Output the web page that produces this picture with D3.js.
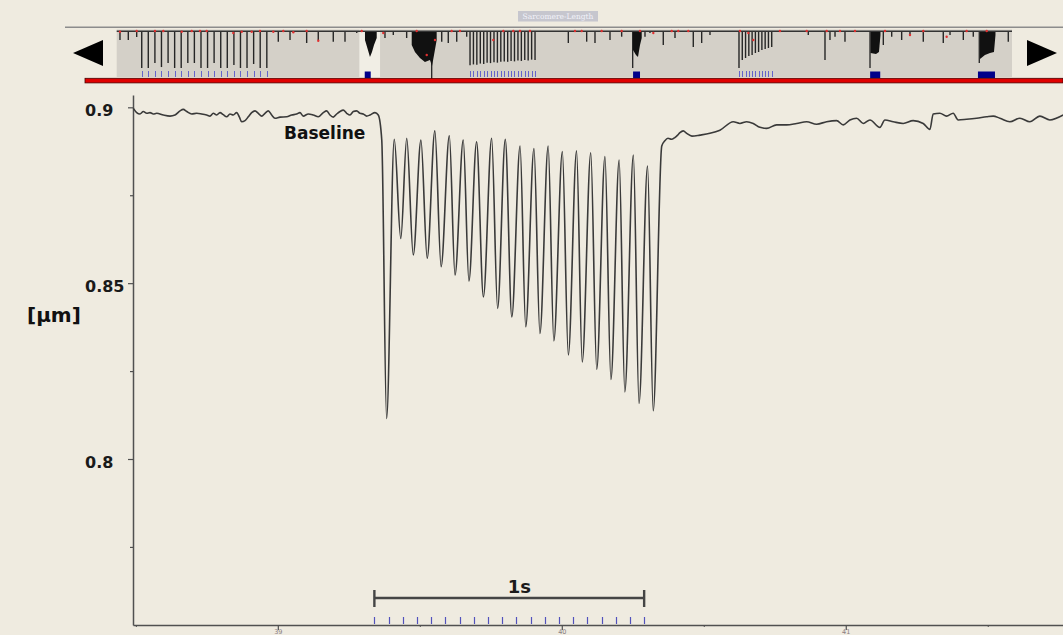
<!DOCTYPE html>
<html>
<head>
<meta charset="utf-8">
<script src="https://cdn.jsdelivr.net/npm/d3@7"></script>
<style>
  html, body { margin: 0; padding: 0; background: #efebe0; overflow: hidden; }
  svg { display: block; }
  text { font-family: "DejaVu Sans", Verdana, sans-serif; }
</style>
</head>
<body>
<div id="chart"></div>
<script>
// ---- main trace: sarcomere length [µm] vs time [s] ----
const baselineBefore = [
  [38.4912, 0.8997], [38.5030, 0.8985], [38.5146, 0.8981], [38.5263, 0.8988], [38.5382, 0.8983],
  [38.5499, 0.8985], [38.5615, 0.8981], [38.5735, 0.8983], [38.5967, 0.8978], [38.6203, 0.8975],
  [38.6379, 0.8978], [38.6555, 0.8990], [38.6671, 0.8994], [38.6791, 0.8988], [38.6967, 0.8981],
  [38.7143, 0.8983], [38.7319, 0.8981], [38.7495, 0.8978], [38.7611, 0.8975], [38.7727, 0.8983],
  [38.7847, 0.8978], [38.7963, 0.8985], [38.8079, 0.8979], [38.8199, 0.8973], [38.8315, 0.8981],
  [38.8432, 0.8978], [38.8551, 0.8985], [38.8643, 0.8973], [38.8727, 0.8959], [38.8844, 0.8962],
  [38.8960, 0.8973], [38.9079, 0.8985], [38.9196, 0.8990], [38.9312, 0.8983], [38.9432, 0.8975],
  [38.9548, 0.8983], [38.9664, 0.8990], [38.9784, 0.8978], [38.9900, 0.8969], [39.0076, 0.8972],
  [39.0312, 0.8973], [39.0488, 0.8978], [39.0664, 0.8981], [39.0780, 0.8985], [39.0896, 0.8975],
  [39.1073, 0.8981], [39.1249, 0.8978], [39.1425, 0.8973], [39.1601, 0.8985], [39.1721, 0.8990],
  [39.1837, 0.8978], [39.1953, 0.8972], [39.2073, 0.8981], [39.2189, 0.8988], [39.2305, 0.8992],
  [39.2425, 0.8983], [39.2541, 0.8978], [39.2657, 0.8988], [39.2777, 0.8990], [39.2893, 0.8983],
  [39.3009, 0.8981], [39.3129, 0.8975], [39.3245, 0.8978], [39.3421, 0.8985], [39.3537, 0.8978]
];

const twitchTrain = [
  [39.366, 0.8907], [39.383, 0.8115], [39.410, 0.8909], [39.433, 0.8627], [39.454, 0.8912],
  [39.477, 0.8580], [39.504, 0.8907], [39.526, 0.8571], [39.553, 0.8933], [39.575, 0.8547],
  [39.604, 0.8919], [39.624, 0.8523], [39.653, 0.8907], [39.673, 0.8506], [39.700, 0.8902],
  [39.724, 0.8461], [39.753, 0.8912], [39.774, 0.8428], [39.801, 0.8909], [39.824, 0.8404],
  [39.853, 0.8890], [39.873, 0.8376], [39.902, 0.8883], [39.923, 0.8357], [39.952, 0.8890],
  [39.972, 0.8336], [40.002, 0.8874], [40.023, 0.8296], [40.052, 0.8876], [40.072, 0.8276],
  [40.102, 0.8871], [40.123, 0.8255], [40.152, 0.8860], [40.173, 0.8226], [40.202, 0.8850],
  [40.222, 0.8191], [40.252, 0.8864], [40.272, 0.8158], [40.302, 0.8833], [40.322, 0.8137],
  [40.352, 0.8890]
];

const baselineAfter = [
  [40.3630, 0.8905], [40.3740, 0.8912], [40.3860, 0.8909], [40.3980, 0.8914], [40.4080, 0.8921],
  [40.4161, 0.8928], [40.4277, 0.8933], [40.4396, 0.8926], [40.4583, 0.8918], [40.4865, 0.8921],
  [40.5217, 0.8926], [40.5569, 0.8935], [40.6037, 0.8959], [40.6273, 0.8954], [40.6509, 0.8959],
  [40.6742, 0.8954], [40.6978, 0.8943], [40.7213, 0.8940], [40.7566, 0.8950], [40.7918, 0.8950],
  [40.8270, 0.8954], [40.8622, 0.8959], [40.8974, 0.8952], [40.9326, 0.8959], [40.9678, 0.8962],
  [40.9911, 0.8950], [41.0146, 0.8964], [41.0382, 0.8969], [41.0615, 0.8954], [41.0851, 0.8964],
  [41.1203, 0.8943], [41.1379, 0.8964], [41.1671, 0.8959], [41.2023, 0.8954], [41.2375, 0.8962],
  [41.2727, 0.8954], [41.2963, 0.8937], [41.3079, 0.8981], [41.3315, 0.8983], [41.3550, 0.8975],
  [41.3783, 0.8983], [41.3959, 0.8964], [41.4255, 0.8966], [41.4607, 0.8969], [41.4959, 0.8973],
  [41.5192, 0.8975], [41.5428, 0.8969], [41.5780, 0.8959], [41.6132, 0.8969], [41.6484, 0.8959],
  [41.6836, 0.8975], [41.7188, 0.8964], [41.7657, 0.8978]
];

// 20 Hz stimulation (blue markers)
const stimTimes = [39.34, 39.39, 39.44, 39.49, 39.54, 39.59, 39.64, 39.69, 39.74, 39.79,
                   39.84, 39.89, 39.94, 39.99, 40.04, 40.09, 40.14, 40.19, 40.24, 40.29];

const yTicks = [0.9, 0.85, 0.8];
const yMinorTicks = [0.875, 0.825, 0.775];
const xTicks = [39, 40, 41];
const xMinorTicks = [38.5, 39.5, 40.5, 41.5];

// ---- overview strip (whole recording) ----
const overviewWindow = [38.49, 41.765];
const overviewLevel = [[0, 0.8985], [142, 0.8985]];
const overviewSpikes = [
  [0.52, 0.8782], [1.84, 0.8782], [3.17, 0.8850],
  [3.97, 0.8138], [5.01, 0.8138], [6.06, 0.8253], [7.10, 0.8160], [8.15, 0.8253],
  [9.19, 0.8138], [10.23, 0.8138], [11.28, 0.8253], [12.32, 0.8253], [13.37, 0.8138],
  [14.41, 0.8138], [15.45, 0.8253], [16.50, 0.8138], [17.54, 0.8138], [18.59, 0.8207],
  [19.63, 0.8138], [20.67, 0.8138], [21.72, 0.8230], [22.76, 0.8138], [23.81, 0.8138],
  [25.63, 0.8743], [27.49, 0.8782], [30.13, 0.8713], [31.97, 0.8782], [34.35, 0.8743],
  [36.21, 0.8743], [38.07, 0.8943], [42.55, 0.8828], [43.87, 0.8897], [45.99, 0.8828],
  [51.55, 0.8743], [52.59, 0.8713], [53.93, 0.8743], [55.51, 0.8857],
  [56.04, 0.8200], [56.58, 0.8220], [57.12, 0.8210], [57.67, 0.8240], [58.21, 0.8230],
  [58.75, 0.8260], [59.29, 0.8250], [59.84, 0.8270], [60.38, 0.8260], [60.92, 0.8280],
  [61.47, 0.8290], [62.01, 0.8280], [62.55, 0.8300], [63.09, 0.8290], [63.64, 0.8310],
  [64.18, 0.8300], [64.72, 0.8320], [65.26, 0.8310], [65.81, 0.8330], [66.35, 0.8320],
  [71.63, 0.8713], [74.54, 0.8743], [75.86, 0.8713], [78.24, 0.8782], [80.09, 0.8857],
  [83.79, 0.8857], [84.58, 0.8943], [86.69, 0.8667], [88.55, 0.8828], [91.45, 0.8621],
  [92.78, 0.8713], [94.10, 0.8897],
  [98.70, 0.8138], [99.22, 0.8322], [99.74, 0.8368], [100.26, 0.8414], [100.78, 0.8437],
  [101.30, 0.8483], [101.81, 0.8506], [102.33, 0.8552], [102.85, 0.8575], [103.37, 0.8598],
  [103.89, 0.8621],
  [109.69, 0.8897], [112.34, 0.8322], [113.13, 0.8782], [113.93, 0.8857], [115.51, 0.8743],
  [121.59, 0.8667], [122.92, 0.8857], [124.50, 0.8782], [125.82, 0.8897], [127.93, 0.8743],
  [131.10, 0.8713], [132.17, 0.8897], [134.28, 0.8782], [135.86, 0.8857], [141.41, 0.8743]
];
// tetanic bursts in the overview: bottom edge [t, v]
const overviewBursts = [
  [[39.38, 0.8782], [39.85, 0.8552], [40.17, 0.8391], [40.49, 0.8506], [40.81, 0.8667], [41.24, 0.8828]],
  [[46.79, 0.8667], [47.31, 0.8506], [48.10, 0.8368], [48.89, 0.8276], [49.69, 0.8322], [50.01, 0.8184], [50.33, 0.8437], [50.75, 0.8782]],
  [[81.89, 0.8552], [82.36, 0.8437], [82.68, 0.8391], [83.00, 0.8667], [83.27, 0.8828]],
  [[119.56, 0.8483], [120.43, 0.8460], [120.90, 0.8506], [121.14, 0.8897]],
  [[136.92, 0.8345], [137.71, 0.8437], [138.51, 0.8483], [139.14, 0.8506], [139.38, 0.8897]]
];
const overviewNeedles = [[49.96, 0.7885], [81.84, 0.8138], [119.48, 0.8138], [136.81, 0.8253]];
const overviewMarks = [
  [0.52, 0.8972], [3.17, 0.8989], [6.07, 0.8989], [7.39, 0.8989], [10.31, 0.8972], [11.90, 0.8989],
  [13.21, 0.8989], [14.27, 0.8989], [18.49, 0.8943], [19.83, 0.8972], [21.41, 0.8972], [22.73, 0.8989],
  [24.84, 0.8972], [26.42, 0.8989], [28.01, 0.8960], [30.13, 0.8989], [31.97, 0.8766], [38.86, 0.8989],
  [42.28, 0.8943], [47.58, 0.8989], [49.17, 0.8437], [50.48, 0.8782], [53.13, 0.8989], [54.45, 0.8989],
  [59.73, 0.8782], [61.32, 0.8989], [62.90, 0.8989], [63.97, 0.8989], [65.55, 0.8989], [72.69, 0.8989],
  [73.75, 0.8989], [76.92, 0.8989], [80.09, 0.8989], [83.00, 0.8989], [85.11, 0.8943], [88.03, 0.8989],
  [89.07, 0.8989], [90.66, 0.8989], [98.86, 0.8989], [100.18, 0.8943], [100.97, 0.8782], [105.20, 0.8989],
  [109.44, 0.8989], [112.61, 0.8989], [114.72, 0.8989], [117.10, 0.8989], [121.86, 0.8989], [125.82, 0.8897],
  [127.93, 0.8989], [131.64, 0.8857], [134.81, 0.8989], [137.99, 0.8989]
];
const overviewStimTicks = [
  3.97, 5.01, 6.06, 7.10, 8.15, 9.19, 10.23, 11.28, 12.32, 13.37,
  14.41, 15.45, 16.50, 17.54, 18.59, 19.63, 20.67, 21.72, 22.76, 23.81,
  56.04, 56.58, 57.12, 57.67, 58.21, 58.75, 59.29, 59.84, 60.38, 60.92,
  61.47, 62.01, 62.55, 63.09, 63.64, 64.18, 64.72, 65.26, 65.81, 66.35,
  98.70, 99.22, 99.74, 100.26, 100.78, 101.30, 101.81, 102.33, 102.85, 103.37, 103.89
];
const overviewStimBlocks = [[39.34, 40.29], [81.9, 83.0], [119.5, 121.1], [136.6, 139.3]];

// ---------------------------------------------------------------
const W = 1063, H = 635;
const svg = d3.select("#chart").append("svg").attr("width", W).attr("height", H);
svg.append("rect").attr("width", W).attr("height", H).attr("fill", "#efebe0");

// ===== overview strip =====
const ox = d3.scaleLinear().domain([0, 142]).range([116.7, 1012]);
const oy = d3.scaleLinear().domain([0.8, 0.9]).range([74, 30.5]);
const ov = svg.append("g");

ov.append("line").attr("x1", 65).attr("x2", W).attr("y1", 27.3).attr("y2", 27.3)
  .attr("stroke", "#8c8c8c").attr("stroke-width", 1.5);

ov.append("rect").attr("x", 518).attr("y", 11).attr("width", 80).attr("height", 10.5)
  .attr("fill", "#c6c6ce");
ov.append("text").attr("x", 558).attr("y", 19).attr("text-anchor", "middle")
  .style("font-family", "'DejaVu Serif', serif").style("font-size", "7.5px")
  .attr("fill", "#f2f2fa").text("Sarcomere-Length");

ov.append("rect").attr("x", ox(0)).attr("y", 29.5).attr("width", ox(142) - ox(0)).attr("height", 47.5)
  .attr("fill", "#d4d0c8");
ov.append("rect").attr("x", ox(overviewWindow[0])).attr("y", 29.5)
  .attr("width", ox(overviewWindow[1]) - ox(overviewWindow[0])).attr("height", 47.5)
  .attr("fill", "#f1eee5");

ov.selectAll(".ov-spike").data(overviewSpikes).enter().append("line")
  .attr("class", "ov-spike")
  .attr("x1", d => ox(d[0])).attr("x2", d => ox(d[0]))
  .attr("y1", oy(0.8985)).attr("y2", d => oy(d[1]))
  .attr("stroke", "#262626").attr("stroke-width", 1.4);

ov.selectAll(".ov-needle").data(overviewNeedles).enter().append("line")
  .attr("class", "ov-needle")
  .attr("x1", d => ox(d[0])).attr("x2", d => ox(d[0]))
  .attr("y1", oy(0.8985)).attr("y2", d => oy(d[1]))
  .attr("stroke", "#222").attr("stroke-width", 1.3);

const burstArea = d3.area().x(d => ox(d[0])).y0(oy(0.8985)).y1(d => oy(d[1]));
ov.selectAll(".ov-burst").data(overviewBursts).enter().append("path")
  .attr("class", "ov-burst").attr("d", burstArea).attr("fill", "#111");

ov.append("path").datum(overviewLevel)
  .attr("d", d3.line().x(d => ox(d[0])).y(d => oy(d[1])))
  .attr("stroke", "#333").attr("stroke-width", 1.5).attr("fill", "none");

ov.selectAll(".ov-mark").data(overviewMarks).enter().append("circle")
  .attr("class", "ov-mark").attr("cx", d => ox(d[0])).attr("cy", d => oy(d[1]))
  .attr("r", 1.2).attr("fill", "#e03030");

ov.selectAll(".ov-stim").data(overviewStimTicks).enter().append("line")
  .attr("class", "ov-stim")
  .attr("x1", d => Math.round(ox(d)) + 0.5).attr("x2", d => Math.round(ox(d)) + 0.5)
  .attr("y1", 71).attr("y2", 77).attr("stroke", "#6464cc").attr("stroke-width", 1);

ov.selectAll(".ov-block").data(overviewStimBlocks).enter().append("rect")
  .attr("class", "ov-block")
  .attr("x", d => ox(d[0])).attr("width", d => ox(d[1]) - ox(d[0]))
  .attr("y", 71.5).attr("height", 6.5).attr("fill", "#00008a");

ov.append("rect").attr("x", 85).attr("y", 78.3).attr("width", W - 85).attr("height", 4.6)
  .attr("fill", "#e00000").attr("stroke", "#4a0000").attr("stroke-width", 0.8);

ov.append("path").attr("d", "M73,53L103,40L103,66Z").attr("fill", "#000");
ov.append("path").attr("d", "M1057,53L1027,40L1027,66Z").attr("fill", "#000");

// ===== main plot =====
const x = d3.scaleLinear().domain([38.49, 41.765]).range([133, 1063]);
const y = d3.scaleLinear().domain([0.7528, 0.9035]).range([625, 95]);
const axisColor = "#505050";

const yAxis = svg.append("g").attr("transform", "translate(133,0)")
  .call(d3.axisLeft(y).tickValues(yTicks).tickSize(5).tickSizeOuter(0).tickFormat(d3.format("")));
yAxis.select(".domain").attr("stroke", axisColor).attr("stroke-width", 1.5);
yAxis.selectAll(".tick line").attr("stroke", axisColor).attr("stroke-width", 1.2);
yAxis.selectAll(".tick text")
  .attr("x", -48).attr("dy", "0.5em").attr("text-anchor", "start")
  .style("font-family", "'DejaVu Sans', Verdana, sans-serif")
  .style("font-size", "16px").style("font-weight", "bold").attr("fill", "#1a1a1a");

const yMinor = svg.append("g").attr("transform", "translate(133,0)")
  .call(d3.axisLeft(y).tickValues(yMinorTicks).tickSize(3).tickSizeOuter(0).tickFormat(""));
yMinor.select(".domain").remove();
yMinor.selectAll(".tick line").attr("stroke", axisColor).attr("stroke-width", 1.2);

const xAxis = svg.append("g").attr("transform", "translate(0,625)")
  .call(d3.axisBottom(x).tickValues(xTicks).tickSize(5).tickSizeOuter(0).tickFormat(d3.format("d")));
xAxis.select(".domain").attr("stroke", axisColor).attr("stroke-width", 1.5);
xAxis.selectAll(".tick line").attr("stroke", axisColor).attr("stroke-width", 1.2);
xAxis.selectAll(".tick text").attr("y", 4.5).attr("dy", "0.71em")
  .style("font-family", "'DejaVu Sans', Verdana, sans-serif")
  .style("font-size", "6.5px").attr("fill", "#8a7f80");

const xMinor = svg.append("g").attr("transform", "translate(0,625)")
  .call(d3.axisBottom(x).tickValues(xMinorTicks).tickSize(2).tickSizeOuter(0).tickFormat(""));
xMinor.select(".domain").remove();
xMinor.selectAll(".tick line").attr("stroke", axisColor);

// stimulation markers
svg.selectAll(".stim").data(stimTimes).enter().append("line")
  .attr("class", "stim")
  .attr("x1", d => Math.round(x(d)) + 0.5).attr("x2", d => Math.round(x(d)) + 0.5)
  .attr("y1", 617).attr("y2", 624).attr("stroke", "#5252bc").attr("stroke-width", 1.2);

// 1 s scale bar over the stimulus train
const barX0 = x(stimTimes[0]), barX1 = x(stimTimes[stimTimes.length - 1]);
const bar = svg.append("g").attr("stroke", "#454545").attr("stroke-width", 2.4);
bar.append("line").attr("x1", barX0).attr("x2", barX1).attr("y1", 598).attr("y2", 598);
bar.append("line").attr("x1", barX0).attr("x2", barX0).attr("y1", 590).attr("y2", 607);
bar.append("line").attr("x1", barX1).attr("x2", barX1).attr("y1", 590).attr("y2", 607);
svg.append("text").attr("x", (barX0 + barX1) / 2 + 10).attr("y", 593)
  .attr("text-anchor", "middle").style("font-size", "18px").style("font-weight", "bold")
  .attr("fill", "#1a1a1a").text("1s");

// trace
const trace = baselineBefore.concat(twitchTrain, baselineAfter);
svg.append("path").datum(trace)
  .attr("d", d3.line().x(d => x(d[0])).y(d => y(d[1])).curve(d3.curveMonotoneX))
  .attr("fill", "none").attr("stroke", "#3a3a3a").attr("stroke-width", 1.6)
  .attr("stroke-linejoin", "round");

// labels
svg.append("text").attr("x", 284).attr("y", 139)
  .style("font-size", "17px").style("font-weight", "bold").attr("fill", "#111").text("Baseline");
svg.append("text").attr("x", 27).attr("y", 322)
  .style("font-size", "20px").style("font-weight", "bold").attr("fill", "#111").text("[µm]");
</script>
</body>
</html>
